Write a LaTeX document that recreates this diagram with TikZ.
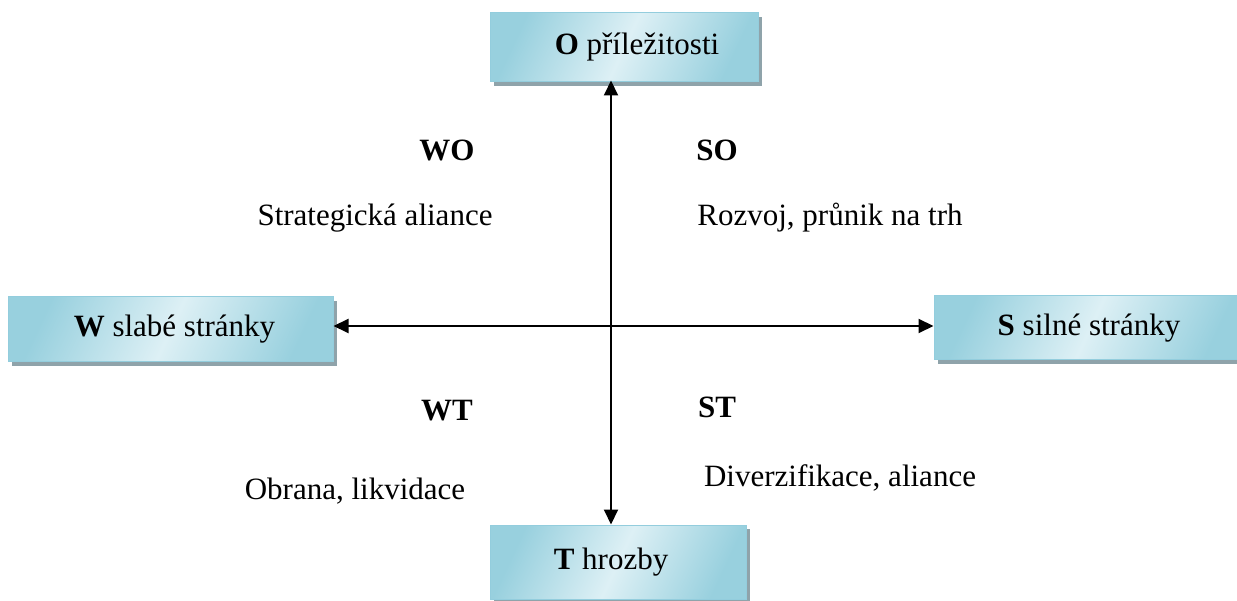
\documentclass[tikz,border=0pt]{standalone}
\usepackage{fontspec}
\setmainfont{Liberation Serif}
\usetikzlibrary{arrows.meta,shadows}
\definecolor{boxdark}{HTML}{98D0DE}
\definecolor{boxlight}{HTML}{DDF0F5}
\definecolor{boxline}{HTML}{93CDDD}
\definecolor{shadowgray}{HTML}{8FA3AA}
\tikzset{
  swotbox/.style={draw=boxline, line width=1pt, inner sep=0pt,
    shading=axis, left color=boxdark, right color=boxdark, middle color=boxlight,
    shading angle=65,
    drop shadow={shadow xshift=4pt, shadow yshift=-4pt, fill=shadowgray, opacity=1},
    font=\fontsize{31}{36}\selectfont},
  lbl/.style={font=\fontsize{31}{36}\selectfont, inner sep=0pt},
  hdr/.style={font=\fontsize{31}{36}\selectfont\bfseries, inner sep=0pt},
  axis/.style={line width=2pt, {Triangle[length=15pt,width=14pt]}-{Triangle[length=15pt,width=14pt]}}
}
\begin{document}
\begin{tikzpicture}[x=1pt,y=-1pt]
\useasboundingbox (0,0) rectangle (1237,601);
\node[swotbox, minimum width=268pt, minimum height=69pt] (O) at (624,47.5) {\hspace*{26pt}\textbf{O} příležitosti};
\node[swotbox, minimum width=256pt, minimum height=74pt] (T) at (618,562) {\textbf{T} hrozby\hspace*{14pt}};
\node[swotbox, minimum width=325pt, minimum height=65pt] (W) at (170.5,329.5) {\hspace*{8pt}\textbf{W} slabé stránky};
\node[swotbox, minimum width=312pt, minimum height=64pt] (S) at (1090,328) {\textbf{S} silné stránky\hspace*{2pt}};
\coordinate (c) at (611,326);
\draw[axis] ([yshift=2pt]c |- O.south) -- (c |- T.north);
\draw[axis] (W.east |- c) -- (S.west |- c);
\node[hdr] (wo) at (447,150) {WO};
\node[lbl] (wot) at (375,218) {Strategická aliance};
\node[hdr] (so) at (717,150) {SO};
\node[lbl] (sot) at (830,218) {Rozvoj, průnik na trh};
\node[hdr] (wt) at (447,411) {WT};
\node[lbl] (wtt) at (355,491) {Obrana, likvidace};
\node[hdr] (st) at (717,407) {ST};
\node[lbl] (stt) at (840,478) {Diverzifikace, aliance};
\end{tikzpicture}
\end{document}
